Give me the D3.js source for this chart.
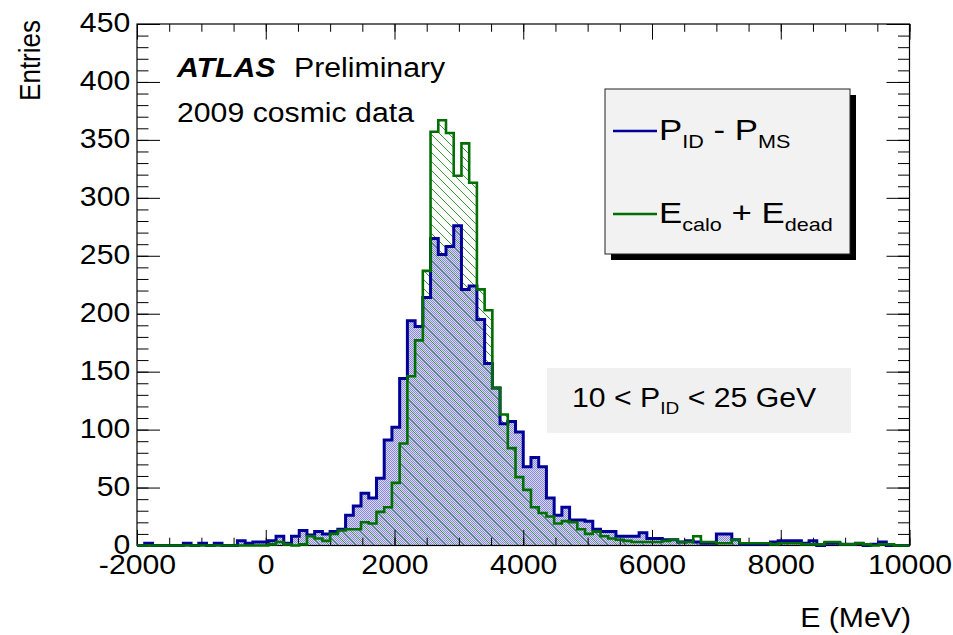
<!DOCTYPE html>
<html>
<head>
<meta charset="utf-8">
<script src="https://cdn.jsdelivr.net/npm/d3@7"></script>
<style>
  body { margin: 0; background: #fff; }
  svg { display: block; }
  text { font-family: "Liberation Sans", Arial, Helvetica, sans-serif; fill: #000; white-space: pre; }
</style>
</head>
<body>
<svg id="chart" width="953" height="635"></svg>
<script>
// Histogram binning: 100 bins of 120 MeV from -2000 to 10000 MeV
const xRange = [-2000, 10000];
const binCount = 100;

// P_ID - P_MS, entries per bin
const pIdMinusPMs = [
  0, 2, 0, 0, 0, 0, 2, 0, 2, 0,
  2, 0, 0, 4, 2, 3, 3, 4, 8, 2,
  8, 13, 9, 12, 10, 12, 14, 26, 34, 45,
  41, 58, 91, 102, 144, 194, 189, 214, 265, 251,
  258, 276, 221, 224, 195, 157, 136, 105, 107, 98,
  68, 76, 68, 41, 26, 33, 22, 22, 21, 14,
  12, 12, 8, 8, 8, 11, 6, 6, 5, 5,
  3, 4, 3, 2, 2, 10, 10, 5, 1, 1,
  1, 1, 3, 4, 4, 4, 2, 4, 0, 2,
  2, 1, 1, 2, 0, 1, 3, 0, 0, 0
];

// E_calo + E_dead, entries per bin
const eCaloPlusEDead = [
  0, 0, 0, 0, 0, 0, 0, 0, 0, 0,
  0, 0, 0, 0, 0, 0, 0, 1, 3, 1,
  0, 1, 8, 6, 4, 10, 13, 14, 14, 20,
  19, 29, 33, 54, 88, 146, 177, 237, 357, 367,
  356, 319, 347, 313, 221, 203, 136, 113, 84, 59,
  48, 33, 28, 25, 19, 21, 20, 14, 10, 12,
  8, 6, 5, 4, 3, 3, 3, 3, 4, 5,
  3, 3, 8, 3, 3, 2, 2, 5, 2, 2,
  2, 2, 1, 2, 2, 2, 1, 1, 1, 3,
  3, 1, 1, 2, 1, 0, 1, 1, 0, 0
];

const xMajorTicks = [-2000, 0, 2000, 4000, 6000, 8000, 10000];
const yMajorTicks = [0, 50, 100, 150, 200, 250, 300, 350, 400, 450];
const xAxisTitle = "E (MeV)";
const yAxisTitle = "Entries";

const svg = d3.select("#chart");
const frame = { left: 137, right: 909.5, top: 24, bottom: 545.5 };

const x = d3.scaleLinear().domain(xRange).range([frame.left, frame.right]);
const y = d3.scaleLinear().domain([0, 450]).range([frame.bottom, frame.top]);

const binWidth = (xRange[1] - xRange[0]) / binCount;
const edges = d3.range(binCount + 1).map(i => xRange[0] + i * binWidth);

// plain ASCII hyphen for negative numbers
const numFmt = d => String(d);

const defs = svg.append("defs");

// light blue dotted fill
const dots = defs.append("pattern").attr("id", "dotFill")
  .attr("patternUnits", "userSpaceOnUse").attr("width", 2).attr("height", 2);
dots.append("rect").attr("width", 2).attr("height", 2).attr("fill", "#d8d8f3");
dots.append("rect").attr("width", 1).attr("height", 1).attr("fill", "#8a8ad4");
dots.append("rect").attr("x", 1).attr("y", 1).attr("width", 1).attr("height", 1).attr("fill", "#8a8ad4");

// green diagonal hatching
const hatch = defs.append("pattern").attr("id", "hatchFill")
  .attr("patternUnits", "userSpaceOnUse").attr("width", 9).attr("height", 9);
hatch.append("path").attr("d", "M0,0L9,9M-1,8L1,10M8,-1L10,1")
  .attr("stroke", "#3a9a3a").attr("stroke-width", 1).attr("fill", "none");

defs.append("clipPath").attr("id", "plotClip").append("rect")
  .attr("x", frame.left).attr("y", frame.top - 2)
  .attr("width", frame.right - frame.left).attr("height", frame.bottom - frame.top + 4);

// step outline points for a histogram
function stepPoints(values) {
  const pts = [[edges[0], 0]];
  values.forEach((v, i) => { pts.push([edges[i], v]); pts.push([edges[i + 1], v]); });
  pts.push([edges[binCount], 0]);
  return pts;
}
const line = d3.line().x(d => x(d[0])).y(d => y(d[1]));
const area = d3.area().x(d => x(d[0])).y0(y(0)).y1(d => y(d[1]));

const plot = svg.append("g").attr("clip-path", "url(#plotClip)");
const bluePts = stepPoints(pIdMinusPMs);
const greenPts = stepPoints(eCaloPlusEDead);

plot.append("path").attr("d", area(bluePts)).attr("fill", "url(#dotFill)");
plot.append("path").attr("d", area(greenPts)).attr("fill", "url(#hatchFill)");

// axes ticks (inward, on all four sides)
const yMinor = d3.range(0, 451, 10);
const xMinor = d3.range(-2000, 10001, 500);
const tickLenY = 23, tickLenX = 15.6;

function noDomain(g) { g.select(".domain").remove(); }

svg.append("g").attr("transform", `translate(${frame.left},0)`)
  .call(d3.axisLeft(y).tickValues(yMinor).tickSize(-tickLenY / 2).tickFormat(""))
  .call(noDomain);
svg.append("g").attr("transform", `translate(${frame.right},0)`)
  .call(d3.axisRight(y).tickValues(yMinor).tickSize(-tickLenY / 2).tickFormat(""))
  .call(noDomain);
svg.append("g").attr("transform", `translate(${frame.right},0)`)
  .call(d3.axisRight(y).tickValues(yMajorTicks).tickSize(-tickLenY).tickFormat(""))
  .call(noDomain);
svg.append("g").attr("transform", `translate(0,${frame.bottom})`)
  .call(d3.axisBottom(x).tickValues(xMinor).tickSize(-tickLenX / 2).tickFormat(""))
  .call(noDomain);
svg.append("g").attr("transform", `translate(0,${frame.top})`)
  .call(d3.axisTop(x).tickValues(xMinor).tickSize(-tickLenX / 2).tickFormat(""))
  .call(noDomain);
svg.append("g").attr("transform", `translate(0,${frame.top})`)
  .call(d3.axisTop(x).tickValues(xMajorTicks).tickSize(-tickLenX).tickFormat(""))
  .call(noDomain);

const labelSize = 27, stretch = 1.12;

const yAxisG = svg.append("g").attr("transform", `translate(${frame.left},0)`)
  .call(d3.axisLeft(y).tickValues(yMajorTicks).tickSize(-tickLenY).tickPadding(6).tickFormat(numFmt))
  .call(noDomain);
yAxisG.selectAll("text").attr("font-size", labelSize)
  .attr("font-family", "Liberation Sans, Arial, sans-serif")
  .attr("dy", "0.28em")
  .attr("transform", `scale(${stretch},1)`);

const xAxisG = svg.append("g").attr("transform", `translate(0,${frame.bottom})`)
  .call(d3.axisBottom(x).tickValues(xMajorTicks).tickSize(-tickLenX).tickPadding(9).tickFormat(numFmt))
  .call(noDomain);
xAxisG.selectAll(".tick text")
  .attr("font-size", labelSize).attr("font-family", "Liberation Sans, Arial, sans-serif")
  .attr("transform", `scale(${stretch},1)`).attr("x", 0);

svg.selectAll(".tick line").attr("stroke", "#000").attr("stroke-width", 1);

// frame
svg.append("rect").attr("x", frame.left).attr("y", frame.top)
  .attr("width", frame.right - frame.left).attr("height", frame.bottom - frame.top)
  .attr("fill", "none").attr("stroke", "#000").attr("stroke-width", 1.2);

// histogram outlines
const lines = svg.append("g").attr("clip-path", "url(#plotClip)");
lines.append("path").attr("d", line(bluePts)).attr("fill", "none")
  .attr("stroke", "#000099").attr("stroke-width", 3).attr("stroke-linejoin", "miter");
lines.append("path").attr("d", line(greenPts)).attr("fill", "none")
  .attr("stroke", "#006f00").attr("stroke-width", 2.6).attr("stroke-linejoin", "miter");

// stretched text helper
function txt(px, py, size, anchor, sx) {
  return svg.append("text")
    .attr("transform", `translate(${px},${py}) scale(${sx || stretch},1)`)
    .attr("font-size", size).attr("text-anchor", anchor || "start");
}

// axis titles
txt(911, 627, labelSize, "end").text(xAxisTitle);
svg.append("text")
  .attr("transform", `translate(40,20) rotate(-90) scale(1,${stretch})`)
  .attr("font-size", 26).attr("text-anchor", "end").text(yAxisTitle);

// annotations
txt(177, 77, labelSize).attr("font-weight", "bold").attr("font-style", "italic").text("ATLAS");
txt(294, 77, labelSize).text("Preliminary");
txt(177, 121.5, labelSize).text("2009 cosmic data");

// legend
const legend = { x: 605, y: 89, w: 245, h: 165 };
svg.append("rect").attr("x", legend.x + 6).attr("y", legend.y + 6)
  .attr("width", legend.w).attr("height", legend.h).attr("fill", "#000");
svg.append("rect").attr("x", legend.x).attr("y", legend.y)
  .attr("width", legend.w).attr("height", legend.h)
  .attr("fill", "#f2f2f2").attr("stroke", "#222").attr("stroke-width", 1);

const legendEntries = [
  { color: "#000099", width: 2.5, parts: [["P", 0], ["ID", 1], [" - P", 0], ["MS", 1]] },
  { color: "#006f00", width: 2.5, parts: [["E", 0], ["calo", 1], [" + E", 0], ["dead", 1]] }
];
const legendRowY = [131, 214];
const legendSize = 29, subSize = 18, subShift = 8;
legendEntries.forEach((e, i) => {
  const cy = legendRowY[i];
  svg.append("line").attr("x1", 613).attr("x2", 657).attr("y1", cy).attr("y2", cy)
    .attr("stroke", e.color).attr("stroke-width", e.width);
  const t = txt(659, cy + 9, legendSize, "start", 1.2);
  let level = 0;
  e.parts.forEach(([s, sub]) => {
    const ts = t.append("tspan").text(s).attr("font-size", sub ? subSize : legendSize);
    const dy = (sub - level) * subShift;
    if (dy !== 0) ts.attr("dy", dy);
    level = sub;
  });
});

// selection box
svg.append("rect").attr("x", 547).attr("y", 368).attr("width", 304).attr("height", 65)
  .attr("fill", "#f0f0f0");
const sel = txt(572, 407, labelSize, "start", 1.12);
sel.append("tspan").text("10 < P");
sel.append("tspan").attr("font-size", 17).attr("dy", 7).text("ID");
sel.append("tspan").attr("dy", -7).text(" < 25 GeV");
</script>
</body>
</html>
